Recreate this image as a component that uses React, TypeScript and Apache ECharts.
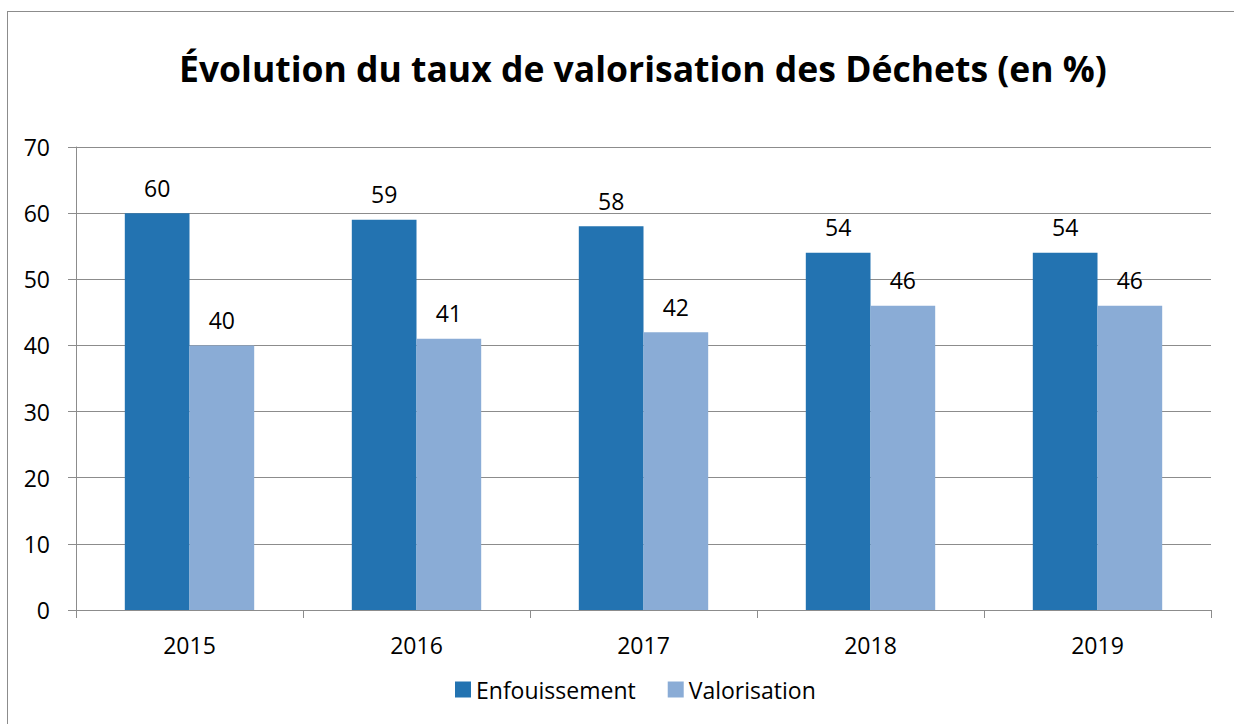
import React, { useEffect, useRef } from "react";
import * as echarts from "echarts";

const years = ["2015", "2016", "2017", "2018", "2019"];
const enfouissement = [60, 59, 58, 54, 54];
const valorisation = [40, 41, 42, 46, 46];
const titleText = "Évolution du taux de valorisation des Déchets (en %)";

export default function App() {
  const ref = useRef<HTMLDivElement>(null);
  useEffect(() => {
    document.body.style.margin = "0";
    const chart = echarts.init(ref.current!, null, { renderer: "svg" });
    const font = "'Open Sans', 'Noto Sans', sans-serif";
    const fs = 23;
    chart.setOption({
      animation: false,
      backgroundColor: "#ffffff",
      textStyle: { fontFamily: font },
      title: {
        text: titleText,
        left: 174,
        top: 45,
        textStyle: { fontSize: 35.5, fontWeight: "bold", color: "#000", fontFamily: font },
      },
      legend: {
        bottom: 18,
        left: 450,
        itemWidth: 16,
        itemHeight: 16,
        itemGap: 32,
        icon: "rect",
        textStyle: { fontSize: fs, color: "#000", fontFamily: font },
        data: ["Enfouissement", "Valorisation"],
      },
      grid: { left: 76, top: 147, right: 23, bottom: 114, containLabel: false },
      xAxis: {
        type: "category",
        data: years,
        axisLine: { lineStyle: { color: "#8c8c8c" } },
        axisTick: { show: true, length: 8, interval: 0, lineStyle: { color: "#8c8c8c" } },
        axisLabel: { fontSize: fs, color: "#000", margin: 23, fontFamily: font },
      },
      yAxis: {
        type: "value",
        min: 0,
        max: 70,
        interval: 10,
        axisLine: { show: true, lineStyle: { color: "#8c8c8c" } },
        axisTick: { show: true, length: 8, lineStyle: { color: "#8c8c8c" } },
        axisLabel: { fontSize: fs, color: "#000", margin: 26, fontFamily: font },
        splitLine: { lineStyle: { color: "#8c8c8c" } },
      },
      series: [
        {
          name: "Enfouissement",
          type: "bar",
          data: enfouissement,
          barGap: "0%",
          barCategoryGap: "43%",
          itemStyle: { color: "#2373b1" },
          label: { show: true, position: "top", distance: 14, fontSize: fs, color: "#000", fontFamily: font },
        },
        {
          name: "Valorisation",
          type: "bar",
          data: valorisation,
          barGap: "0%",
          barCategoryGap: "43%",
          itemStyle: { color: "#8aacd6" },
          label: { show: true, position: "top", distance: 14, fontSize: fs, color: "#000", fontFamily: font },
        },
      ],
    });
    return () => chart.dispose();
  }, []);
  return (
    <div style={{ position: "relative", width: 1234, height: 724, overflow: "hidden" }}>
      <div ref={ref} style={{ position: "absolute", left: 0, top: 0, width: 1234, height: 724 }} />
      <div
        style={{
          position: "absolute",
          left: 7,
          top: 11,
          width: 1400,
          height: 900,
          borderLeft: "1px solid #8c8c8c",
          borderTop: "1px solid #8c8c8c",
          pointerEvents: "none",
        }}
      />
    </div>
  );
}
